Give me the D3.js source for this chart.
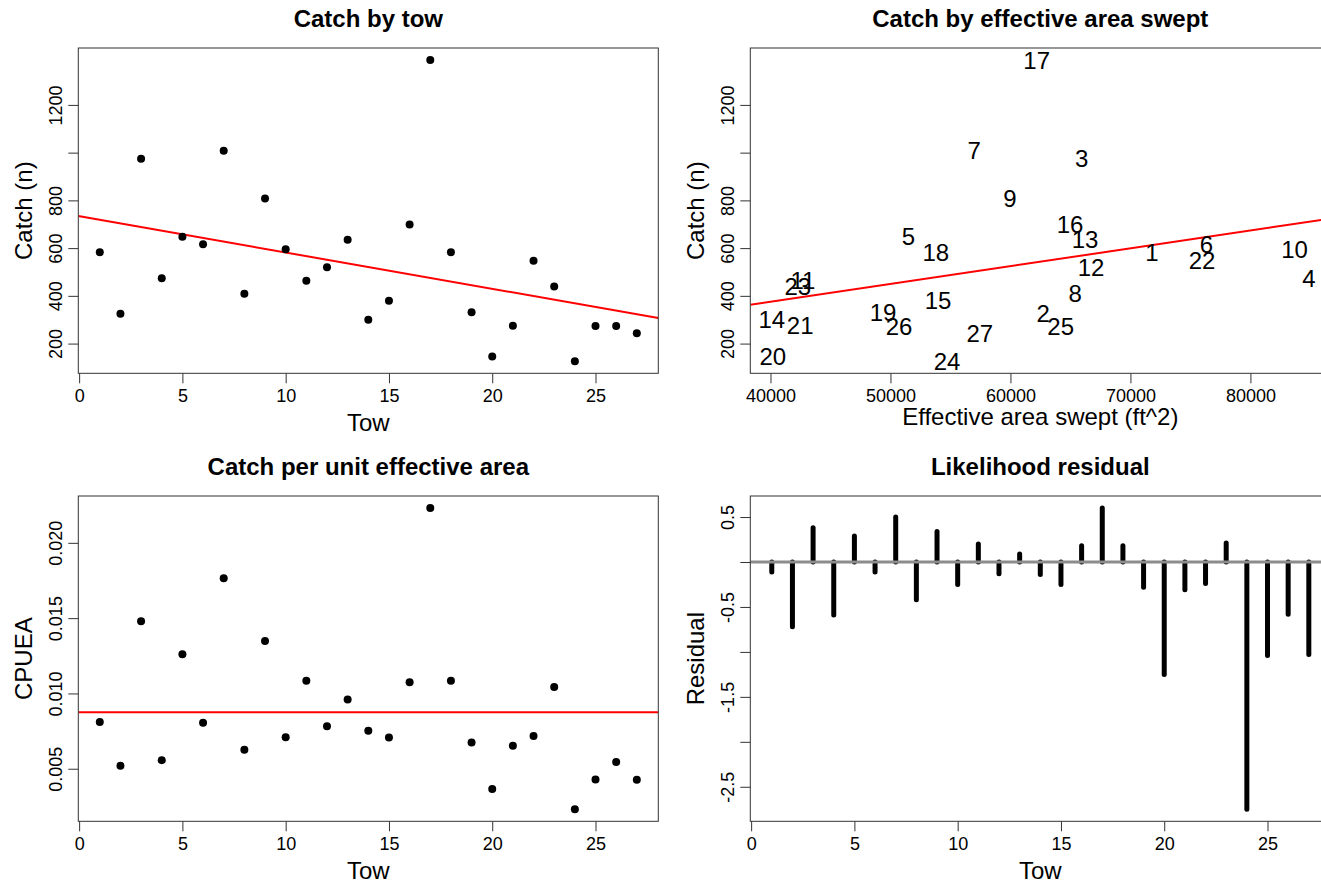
<!DOCTYPE html>
<html>
<head>
<meta charset="utf-8">
<script src="https://cdn.jsdelivr.net/npm/d3@7"></script>
<style>
  html, body { margin: 0; padding: 0; background: #fff; }
  svg { display: block; font-family: "Liberation Sans", Arial, Helvetica, sans-serif; }
</style>
</head>
<body>
<svg id="chart" width="1321" height="885"></svg>
<script>
// Tow survey data
const tows = [1,2,3,4,5,6,7,8,9,10,11,12,13,14,15,16,17,18,19,20,21,22,23,24,25,26,27];
const catchN = [583,325,974,474,648,616,1008,409,808,595,463,520,635,300,380,699,1388,583,331,146,275,547,439,126,274,274,243];
const areaSwept = [71791,62739,65946,84868,51499,76326,56977,65386,59958,83674,42700,66722,66221,40109,53970,64969,62188,53779,49378,40192,42478,75967,42280,54722,64190,50715,57453];
const cpuea = [0.00811,0.00520,0.01479,0.00557,0.01261,0.00806,0.01765,0.00626,0.01349,0.00709,0.01084,0.00782,0.00960,0.00753,0.00707,0.01075,0.02231,0.01084,0.00674,0.00365,0.00652,0.00718,0.01042,0.00231,0.00429,0.00544,0.00427];
const residual = [-0.11,-0.72,0.38,-0.59,0.29,-0.11,0.50,-0.42,0.34,-0.25,0.20,-0.13,0.09,-0.14,-0.25,0.18,0.60,0.18,-0.28,-1.25,-0.31,-0.24,0.21,-2.75,-1.04,-0.58,-1.03];

// Axis ticks and which of them carry a label
const towTicks = [0,5,10,15,20,25];
const catchTicks = [200,400,600,800,1000,1200];
const catchTickLabels = [200,400,600,800,1200];
const areaTicks = [40000,50000,60000,70000,80000];
const cpueaTicks = [0.005,0.010,0.015,0.020];
const residTicks = [0.5,0,-0.5,-1,-1.5,-2,-2.5];
const residTickLabels = [0.5,-0.5,-1.5,-2.5];

const svg = d3.select("#chart");
const colLeft = [78.3, 750.3], rowTop = [48, 496];
const boxW = 580, boxH = 325.3;
const TICK = 10, YLAB_GAP = 16.6, XLAB_BASE = 28.4;
const DOT_R = 4;

// R-style axis range: data extent widened by 4% on each side
function pad(ext) { const r = ext[1] - ext[0]; return [ext[0] - 0.04 * r, ext[1] + 0.04 * r]; }

function linFit(xs, ys) {
  const mx = d3.mean(xs), my = d3.mean(ys);
  let sxy = 0, sxx = 0;
  xs.forEach((x, i) => { sxy += (x - mx) * (ys[i] - my); sxx += (x - mx) * (x - mx); });
  const b = sxy / sxx;
  return { a: my - b * mx, b };
}

let clipCount = 0;
function panel(col, row, xDomain, yDomain, opts) {
  const left = colLeft[col], top = rowTop[row];
  const g = svg.append("g").attr("transform", `translate(${left},${top})`);
  const x = d3.scaleLinear().domain(xDomain).range([0, boxW]);
  const y = d3.scaleLinear().domain(yDomain).range([boxH, 0]);
  const id = "clip" + (clipCount++);
  g.append("clipPath").attr("id", id).append("rect").attr("width", boxW).attr("height", boxH);
  const plot = g.append("g").attr("clip-path", `url(#${id})`);

  // bottom axis
  const xa = g.append("g").attr("transform", `translate(0,${boxH})`)
    .call(d3.axisBottom(x).tickValues(opts.xTicks).tickSize(TICK).tickFormat(opts.xFmt));
  xa.select(".domain").remove();
  xa.selectAll("line").attr("stroke", "#333");
  xa.selectAll("text").attr("y", XLAB_BASE).attr("dy", 0)
    .attr("font-size", 18).attr("fill", "#000");

  // left axis with labels parallel to the axis
  const ya = g.append("g")
    .call(d3.axisLeft(y).tickValues(opts.yTicks).tickSize(TICK)
      .tickFormat(v => opts.yLabels.includes(v) ? opts.yFmt(v) : ""));
  ya.select(".domain").remove();
  ya.selectAll("line").attr("stroke", "#333");
  ya.selectAll("text").attr("x", null).attr("dy", 0)
    .attr("transform", `translate(${-YLAB_GAP},0) rotate(-90)`)
    .attr("text-anchor", "middle").attr("font-size", 18).attr("fill", "#000");

  // title and axis titles
  g.append("text").attr("x", boxW / 2).attr("y", -20.7).attr("text-anchor", "middle")
    .attr("font-size", 24).attr("font-weight", "bold").text(opts.title);
  g.append("text").attr("x", boxW / 2).attr("y", boxH + opts.xTitleBase).attr("text-anchor", "middle")
    .attr("font-size", 24).text(opts.xTitle);
  g.append("text").attr("transform", `translate(-46.7,${boxH / 2}) rotate(-90)`)
    .attr("text-anchor", "middle").attr("font-size", 24).text(opts.yTitle);

  return { g, plot, x, y, box: () => g.append("rect").attr("width", boxW).attr("height", boxH)
    .attr("fill", "none").attr("stroke", "#333").attr("stroke-width", 1) };
}

const minusFmt = v => d3.format(".1f")(v).replace("\u2212", "-");
const towFmt = d3.format("d");

// 1. Catch by tow
{
  const p = panel(0, 0, pad(d3.extent(tows)), pad(d3.extent(catchN)), {
    xTicks: towTicks, xFmt: towFmt, yTicks: catchTicks, yLabels: catchTickLabels, yFmt: d3.format("d"),
    title: "Catch by tow", xTitle: "Tow", yTitle: "Catch (n)", xTitleBase: 57.5 });
  const fit = linFit(tows, catchN);
  const [x0, x1] = p.x.domain();
  p.plot.append("line").attr("x1", p.x(x0)).attr("x2", p.x(x1))
    .attr("y1", p.y(fit.a + fit.b * x0)).attr("y2", p.y(fit.a + fit.b * x1))
    .attr("stroke", "#ff0000").attr("stroke-width", 2);
  p.plot.selectAll("circle").data(tows).join("circle")
    .attr("cx", d => p.x(d)).attr("cy", (d, i) => p.y(catchN[i])).attr("r", DOT_R).attr("fill", "#000");
  p.box();
}

// 2. Catch by effective area swept
{
  const p = panel(1, 0, pad(d3.extent(areaSwept)), pad(d3.extent(catchN)), {
    xTicks: areaTicks, xFmt: d3.format("d"), yTicks: catchTicks, yLabels: catchTickLabels, yFmt: d3.format("d"),
    title: "Catch by effective area swept", xTitle: "Effective area swept (ft^2)", yTitle: "Catch (n)", xTitleBase: 52 });
  const fit = linFit(areaSwept, catchN);
  const [x0, x1] = p.x.domain();
  p.plot.append("line").attr("x1", p.x(x0)).attr("x2", p.x(x1))
    .attr("y1", p.y(fit.a + fit.b * x0)).attr("y2", p.y(fit.a + fit.b * x1))
    .attr("stroke", "#ff0000").attr("stroke-width", 2);
  p.plot.selectAll("text.lab").data(tows).join("text").attr("class", "lab")
    .attr("x", (d, i) => p.x(areaSwept[i])).attr("y", (d, i) => p.y(catchN[i]))
    .attr("dy", "0.36em").attr("text-anchor", "middle").attr("font-size", 24).attr("fill", "#000")
    .text(d => d);
  p.box();
}

// 3. Catch per unit effective area
{
  const p = panel(0, 1, pad(d3.extent(tows)), pad(d3.extent(cpuea)), {
    xTicks: towTicks, xFmt: towFmt, yTicks: cpueaTicks, yLabels: cpueaTicks, yFmt: d3.format(".3f"),
    title: "Catch per unit effective area", xTitle: "Tow", yTitle: "CPUEA", xTitleBase: 57.5 });
  const m = d3.mean(cpuea);
  p.plot.append("line").attr("x1", 0).attr("x2", boxW).attr("y1", p.y(m)).attr("y2", p.y(m))
    .attr("stroke", "#ff0000").attr("stroke-width", 2);
  p.plot.selectAll("circle").data(tows).join("circle")
    .attr("cx", d => p.x(d)).attr("cy", (d, i) => p.y(cpuea[i])).attr("r", DOT_R).attr("fill", "#000");
  p.box();
}

// 4. Likelihood residual
{
  const p = panel(1, 1, pad(d3.extent(tows)), pad(d3.extent(residual)), {
    xTicks: towTicks, xFmt: towFmt, yTicks: residTicks, yLabels: residTickLabels, yFmt: minusFmt,
    title: "Likelihood residual", xTitle: "Tow", yTitle: "Residual", xTitleBase: 57.5 });
  p.plot.selectAll("line.bar").data(tows).join("line").attr("class", "bar")
    .attr("x1", d => p.x(d)).attr("x2", d => p.x(d))
    .attr("y1", p.y(0)).attr("y2", (d, i) => p.y(residual[i]))
    .attr("stroke", "#000").attr("stroke-width", 5).attr("stroke-linecap", "round");
  p.plot.append("line").attr("x1", 0).attr("x2", boxW).attr("y1", p.y(0)).attr("y2", p.y(0))
    .attr("stroke", "#8c8c8c").attr("stroke-width", 3);
  p.box();
}
</script>
</body>
</html>
